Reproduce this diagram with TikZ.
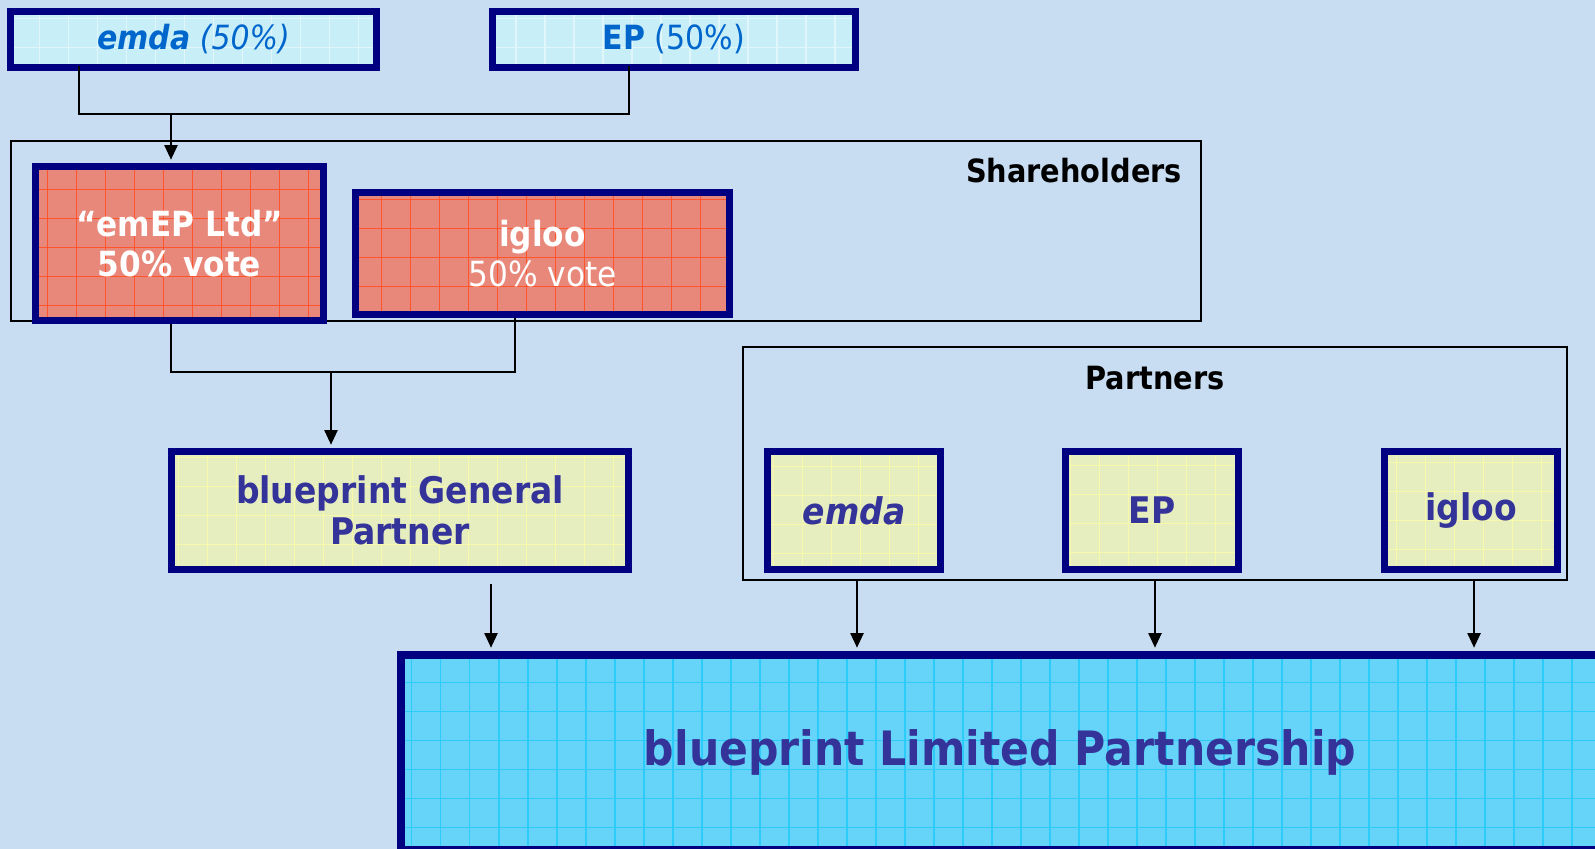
\documentclass[tikz,border=0pt]{standalone}
\usepackage{fontspec}
\setmainfont{DejaVu Sans Condensed}
\usepackage{xcolor}
\usepackage{tikz}
\usetikzlibrary{positioning,calc,arrows.meta}

\definecolor{bgblue}{RGB}{200,221,241}
\definecolor{navyline}{RGB}{0,0,128}
\definecolor{topfill}{RGB}{200,238,248}
\definecolor{toptext}{RGB}{0,102,204}
\definecolor{redfill}{RGB}{232,136,122}
\definecolor{redgrid}{RGB}{255,84,44}
\definecolor{yelfill}{RGB}{230,238,192}
\definecolor{yelgrid}{RGB}{246,248,170}
\definecolor{cyanfill}{RGB}{102,212,248}
\definecolor{cyangrid}{RGB}{44,204,250}
\definecolor{inktext}{RGB}{51,51,153}

\newcommand{\topfont}{\fontsize{25pt}{29pt}\selectfont}
\newcommand{\votefont}{\fontsize{26pt}{30pt}\selectfont}
\newcommand{\partfont}{\fontsize{27.5pt}{31pt}\selectfont\bfseries}
\newcommand{\lblfont}{\fontsize{24pt}{28pt}\selectfont\bfseries}
\newcommand{\lpfont}{\fontsize{35.5pt}{40pt}\selectfont\bfseries}

\tikzset{
  gridfill/.style={path picture={
    \draw[#1,line width=0.8pt] (path picture bounding box.south west) grid[xstep=29,ystep=29] (path picture bounding box.north east);}},
  boxbase/.style={draw=navyline,line width=5.25pt,inner sep=0pt,align=center},
  topbox/.style={boxbase,fill=topfill,gridfill=white!45!topfill,text=toptext,font=\topfont},
  votebox/.style={boxbase,fill=redfill,gridfill=redgrid,text=white,font=\votefont},
  partbox/.style={boxbase,fill=yelfill,gridfill=yelgrid,text=inktext,font=\partfont},
  lpbox/.style={boxbase,line width=6pt,fill=cyanfill,gridfill=cyangrid,text=inktext,font=\lpfont},
  groupframe/.style={draw=black,line width=1.2pt,inner sep=0pt},
  lbl/.style={font=\lblfont,text=black,inner sep=0pt},
  link/.style={line width=1.05pt},
  arr/.style={link,-{Triangle[length=11pt,width=10pt]},shorten >=2.5pt},
}

\begin{document}
\begin{tikzpicture}[x=0.75pt,y=0.75pt,yscale=-1,xscale=1]
  \path[use as bounding box,clip] (0,0) rectangle (1595,849);
  \fill[bgblue] (0,0) rectangle (1595,849);

  %Group frames
  \node[groupframe,minimum width=892.5pt,minimum height=135pt] (share) at (606,231) {};
  \node[groupframe,minimum width=618pt,minimum height=174.75pt] (partners) at (1155,463.5) {};
  % Text Node
  \node[lbl] (sharelbl) at (1074,171) {Shareholders};
  % Text Node
  \node[lbl] (partlbl) at (1155,378) {Partners};

  %Owners
  \node[topbox,minimum width=274.5pt,minimum height=42pt] (emdatop) at (193.5,39.5) {\raisebox{-2pt}{\textbf{\textit{emda}} \textit{(50\%)}}};
  \node[topbox,minimum width=272.25pt,minimum height=42pt] (eptop) at (674,39.5) {\raisebox{-2pt}{\textbf{EP} (50\%)}};

  %Shareholders
  \node[votebox,font=\votefont\bfseries,minimum width=216pt,minimum height=115.5pt] (emep) at (179.5,243.5) {“emEP Ltd”\\50\% vote};
  \node[votebox,minimum width=280.5pt,minimum height=91.5pt] (igloovote) at (542.5,253.5) {\textbf{igloo}\\50\% vote};

  %General partner and partners
  \node[partbox,minimum width=342.75pt,minimum height=88.5pt] (gp) at (400,510.5) {blueprint General\\Partner};
  \node[partbox,minimum width=129.75pt,minimum height=88.5pt] (pemda) at (854,510.5) {\textit{emda}};
  \node[partbox,minimum width=129.75pt,minimum height=88.5pt] (pep) at (1152,510.5) {EP};
  \node[partbox,minimum width=129.75pt,minimum height=88.5pt] (pigloo) at (1471,510.5) {igloo};

  %Limited partnership
  \node[lpbox,minimum width=898.5pt,minimum height=146.25pt] (lp) at (1000,752.5) {\raisebox{3pt}{blueprint Limited Partnership}};

  %Connectors
  \coordinate (topjoin) at (171,114);
  \coordinate (midjoin) at (331,372);
  \draw[link] ($(emdatop.south)+(-114.5,-5)$) |- (topjoin) -| ($(eptop.south)+(-45,-5)$);
  \draw[arr] (topjoin) -- (topjoin |- emep.north);
  \draw[link] ($(emep.south)+(-8.5,0)$) |- (midjoin) -| ($(igloovote.south)+(-27.5,0)$);
  \draw[arr] (midjoin) -- (midjoin |- gp.north);
  \draw[arr] ($(gp.south)+(91,10.5)$) coordinate (gpfoot) -- (gpfoot |- lp.north);
  \foreach \p in {pemda,pep,pigloo}
    \draw[arr] ($(\p.south |- partners.south)+(3,0)$) coordinate (pfoot) -- (pfoot |- lp.north);

\end{tikzpicture}
\end{document}
